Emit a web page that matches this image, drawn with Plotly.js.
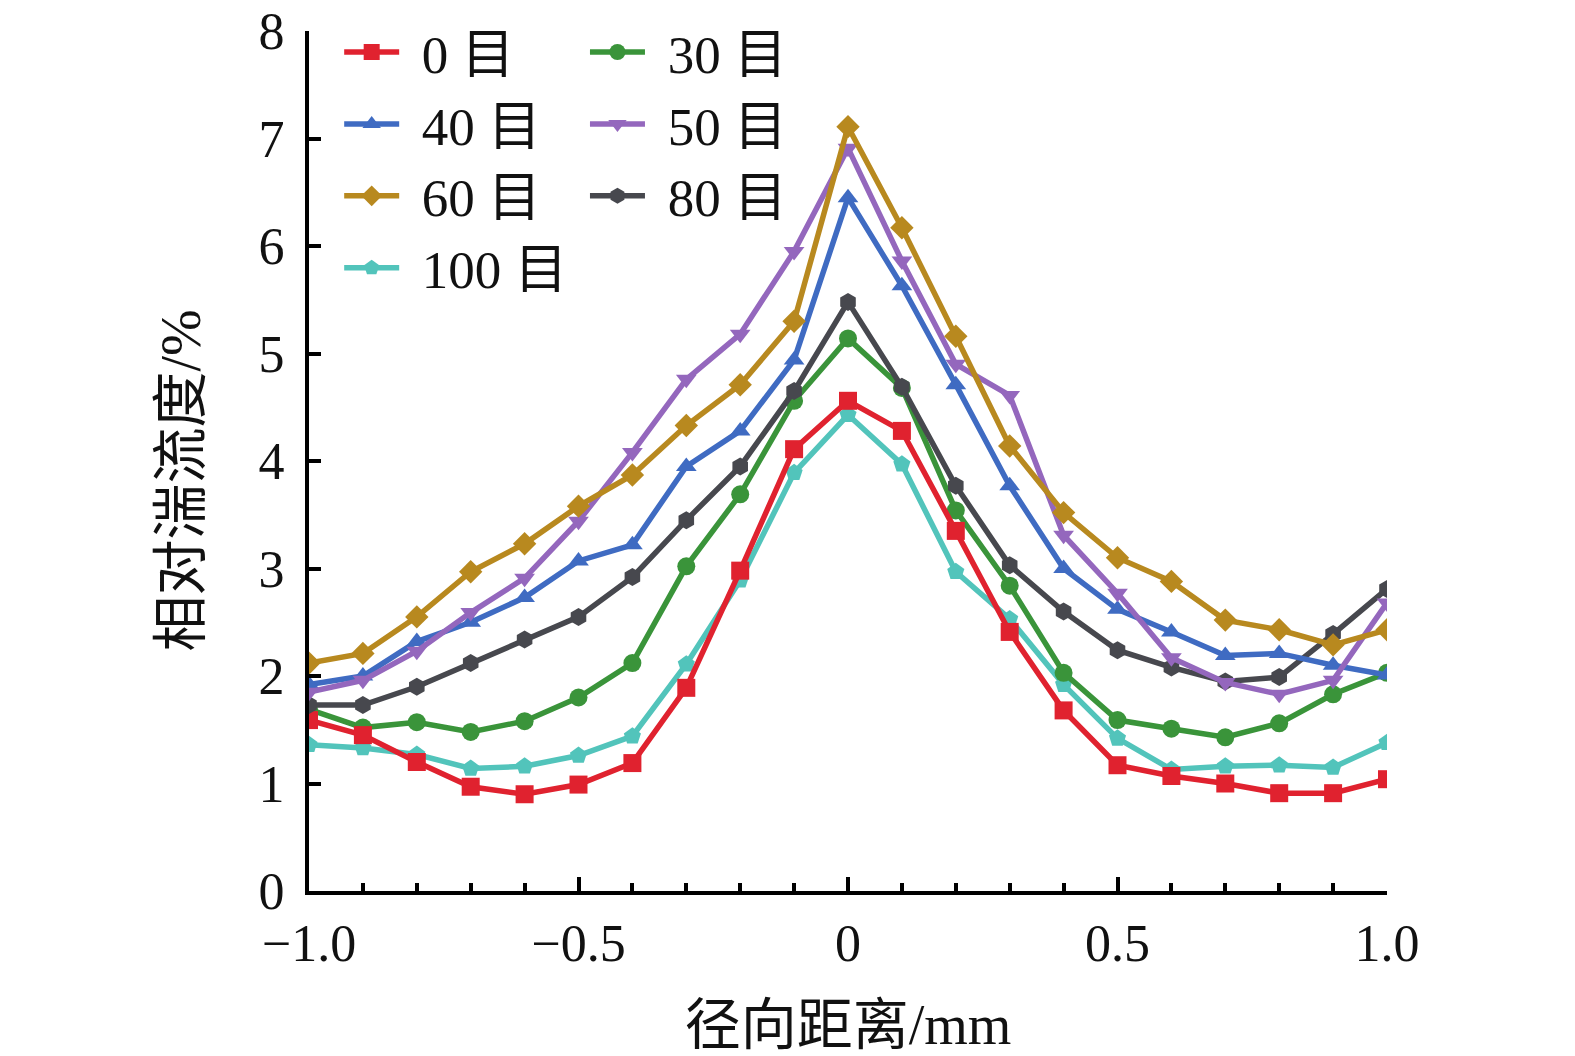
<!DOCTYPE html>
<html>
<head>
<meta charset="utf-8">
<script src="https://cdn.plot.ly/plotly-3.0.1.min.js"></script>
<style>html,body{margin:0;padding:0;background:#fff}#chart{width:1575px;height:1056px}</style>
</head>
<body>
<div id="chart"></div>
<script>
const radial = [-1.0,-0.9,-0.8,-0.7,-0.6,-0.5,-0.4,-0.3,-0.2,-0.1,0,0.1,0.2,0.3,0.4,0.5,0.6,0.7,0.8,0.9,1.0];
const mesh0   = [1.59,1.45,1.20,0.97,0.90,0.99,1.19,1.89,2.98,4.11,4.56,4.28,3.35,2.41,1.68,1.17,1.07,1.00,0.91,0.91,1.04];
const mesh30  = [1.69,1.52,1.57,1.48,1.58,1.80,2.12,3.02,3.69,4.56,5.14,4.68,3.54,2.84,2.03,1.59,1.51,1.43,1.56,1.83,2.03];
const mesh40  = [1.92,2.00,2.32,2.50,2.73,3.07,3.22,3.95,4.28,4.94,6.45,5.63,4.71,3.77,3.00,2.62,2.41,2.19,2.21,2.10,2.01];
const mesh50  = [1.85,1.96,2.23,2.59,2.91,3.44,4.08,4.76,5.18,5.95,6.91,5.86,4.90,4.61,3.31,2.77,2.17,1.94,1.83,1.96,2.68];
const mesh60  = [2.12,2.21,2.55,2.97,3.23,3.58,3.87,4.33,4.71,5.30,7.11,6.17,5.16,4.14,3.52,3.10,2.88,2.52,2.43,2.29,2.43];
const mesh80  = [1.73,1.73,1.90,2.12,2.34,2.55,2.92,3.45,3.95,4.65,5.48,4.69,3.77,3.03,2.60,2.24,2.08,1.95,1.99,2.39,2.81];
const mesh100 = [1.36,1.33,1.27,1.14,1.16,1.26,1.44,2.11,2.89,3.89,4.43,3.97,2.97,2.53,1.92,1.42,1.13,1.16,1.17,1.15,1.38];
const seriesNames = ['0 目','30 目','40 目','50 目','60 目','80 目','100 目'];
const xTickVals = [-1.0,-0.5,0,0.5,1.0];
const xTickText = ['\u22121.0','\u22120.5','0','0.5','1.0'];
const xTitle = '径向距离/mm';
const yTitle = '相对湍流度/%';

const FONT = 'Liberation Serif, Times New Roman, Noto Sans CJK SC, serif';
function tr(name, y, color, symbol, legend, rank) {
  return {
    type:'scatter', mode:'lines+markers', x: radial, y: y,
    name: '\u2004' + name,
    legend: legend, legendrank: rank, cliponaxis:true,
    line:{color:color, width:5.5},
    marker:{color:color, symbol:symbol, size:18}
  };
}
const data = [
  tr(seriesNames[6], mesh100, '#52C4BB', 'pentagon', 'legend', 4),
  tr(seriesNames[1], mesh30, '#3A943A', 'circle', 'legend2', 1),
  tr(seriesNames[0], mesh0, '#E0222F', 'square', 'legend', 1),
  tr(seriesNames[5], mesh80, '#47484E', 'hexagon', 'legend2', 3),
  tr(seriesNames[2], mesh40, '#3F6BC2', 'triangle-up', 'legend', 2),
  tr(seriesNames[3], mesh50, '#9467BD', 'triangle-down', 'legend2', 2),
  tr(seriesNames[4], mesh60, '#B8891F', 'diamond', 'legend', 3)
];

const legendCommon = {
  font:{family:FONT, size:53, color:'#111'},
  bgcolor:'rgba(0,0,0,0)', borderwidth:0,
  itemwidth:55, yanchor:'top', xanchor:'left', orientation:'v',
  tracegroupgap:0
};
const layout = {
  width:1575, height:1056,
  margin:{l:309, r:188, t:30, b:165},
  paper_bgcolor:'#fff', plot_bgcolor:'#fff',
  font:{family:FONT, size:52, color:'#111'},
  xaxis:{
    range:[-1,1], showgrid:false, zeroline:false, automargin:false,
    showline:true, linecolor:'#000', linewidth:4,
    ticks:'inside', ticklen:14, tickwidth:4, tickcolor:'#000',
    tickvals:xTickVals, ticktext:xTickText, ticklabelstandoff:4,
    tickfont:{family:FONT, size:52, color:'#111'},
    minor:{dtick:0.1, tick0:0, ticks:'inside', ticklen:8, tickwidth:4, tickcolor:'#000', showgrid:false},
    title:{text:xTitle, font:{family:FONT, size:56, color:'#111'}, standoff:40}
  },
  yaxis:{
    range:[0,8], showgrid:false, zeroline:false, automargin:false,
    showline:true, linecolor:'#000', linewidth:4,
    ticks:'inside', ticklen:12, tickwidth:4, tickcolor:'#000',
    dtick:1, tick0:0, ticklabelstandoff:10,
    tickfont:{family:FONT, size:52, color:'#111'}
  },
  annotations:[{
    text:yTitle, textangle:-90, showarrow:false,
    xref:'paper', yref:'paper', x:-0.1187, y:0.4774,
    xanchor:'center', yanchor:'middle',
    font:{family:FONT, size:56, color:'#111'}
  }],
  legend: Object.assign({x:0.028, y:1.022}, legendCommon),
  legend2: Object.assign({x:0.256, y:1.022}, legendCommon),
  showlegend:true
};
Plotly.newPlot('chart', data, layout, {staticPlot:true, displayModeBar:false});
</script>
</body>
</html>
